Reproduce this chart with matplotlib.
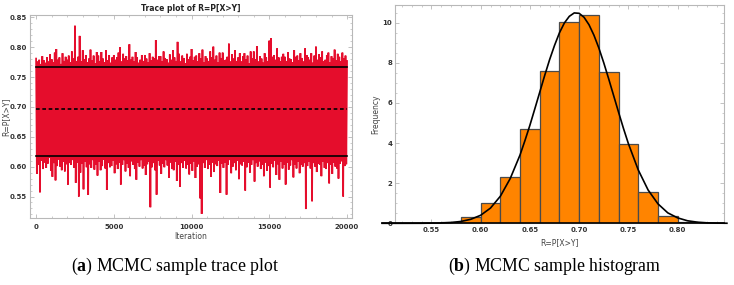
import numpy as np
import matplotlib.pyplot as plt
from matplotlib.ticker import MultipleLocator

# ---- trace plot data: chain extremes read every 100 iterations ----
trace_iter = list(range(0, 20001, 100))
trace_hi = [
    0.781, 0.776, 0.779, 0.772, 0.785, 0.778, 0.774, 0.783, 0.776, 0.788,
    0.780, 0.775, 0.791, 0.797, 0.779, 0.783, 0.772, 0.790, 0.777, 0.784,
    0.779, 0.786, 0.775, 0.793, 0.781, 0.836, 0.777, 0.784, 0.819, 0.776,
    0.795, 0.780, 0.787, 0.775, 0.781, 0.796, 0.778, 0.786, 0.773, 0.792,
    0.786, 0.777, 0.792, 0.781, 0.775, 0.795, 0.778, 0.787, 0.774, 0.783,
    0.787, 0.779, 0.783, 0.791, 0.800, 0.776, 0.789, 0.781, 0.785, 0.778,
    0.805, 0.779, 0.784, 0.776, 0.792, 0.783, 0.774, 0.779, 0.787, 0.777,
    0.787, 0.781, 0.775, 0.790, 0.778, 0.784, 0.781, 0.812, 0.779, 0.785,
    0.785, 0.776, 0.793, 0.782, 0.780, 0.774, 0.788, 0.779, 0.795, 0.783,
    0.777, 0.809, 0.789, 0.776, 0.786, 0.782, 0.773, 0.789, 0.780, 0.784,
    0.797, 0.778, 0.784, 0.786, 0.776, 0.790, 0.781, 0.796, 0.774, 0.785,
    0.781, 0.777, 0.793, 0.783, 0.801, 0.779, 0.786, 0.775, 0.791, 0.782,
    0.791, 0.778, 0.779, 0.784, 0.806, 0.776, 0.788, 0.781, 0.795, 0.777,
    0.783, 0.790, 0.776, 0.785, 0.790, 0.779, 0.786, 0.773, 0.793, 0.781,
    0.793, 0.780, 0.802, 0.776, 0.785, 0.781, 0.774, 0.790, 0.783, 0.777,
    0.811, 0.815, 0.784, 0.787, 0.779, 0.798, 0.783, 0.776, 0.784, 0.789,
    0.784, 0.777, 0.792, 0.781, 0.780, 0.775, 0.795, 0.784, 0.786, 0.778,
    0.790, 0.782, 0.776, 0.798, 0.787, 0.783, 0.779, 0.790, 0.774, 0.786,
    0.801, 0.779, 0.788, 0.783, 0.793, 0.776, 0.779, 0.787, 0.791, 0.775,
    0.785, 0.782, 0.796, 0.778, 0.789, 0.784, 0.776, 0.791, 0.781, 0.786,
    0.777]
trace_lo = [
    0.588, 0.603, 0.557, 0.610, 0.596, 0.607, 0.598, 0.605, 0.615, 0.593,
    0.583, 0.606, 0.577, 0.601, 0.612, 0.600, 0.594, 0.608, 0.592, 0.604,
    0.570, 0.606, 0.603, 0.611, 0.598, 0.573, 0.607, 0.550, 0.590, 0.605,
    0.562, 0.609, 0.599, 0.553, 0.604, 0.598, 0.611, 0.595, 0.603, 0.585,
    0.608, 0.594, 0.601, 0.612, 0.597, 0.561, 0.606, 0.599, 0.601, 0.610,
    0.589, 0.604, 0.596, 0.607, 0.570, 0.603, 0.611, 0.592, 0.605, 0.598,
    0.584, 0.609, 0.603, 0.596, 0.578, 0.607, 0.600, 0.611, 0.597, 0.602,
    0.586, 0.604, 0.608, 0.532, 0.599, 0.606, 0.594, 0.553, 0.610, 0.602,
    0.588, 0.605, 0.599, 0.611, 0.602, 0.581, 0.607, 0.596, 0.594, 0.608,
    0.576, 0.603, 0.566, 0.606, 0.598, 0.610, 0.597, 0.603, 0.587, 0.605,
    0.593, 0.609, 0.581, 0.600, 0.604, 0.547, 0.521, 0.606, 0.598, 0.611,
    0.596, 0.603, 0.583, 0.607, 0.591, 0.604, 0.601, 0.610, 0.556, 0.605,
    0.598, 0.607, 0.553, 0.603, 0.611, 0.589, 0.600, 0.606, 0.594, 0.610,
    0.579, 0.604, 0.602, 0.608, 0.560, 0.599, 0.607, 0.590, 0.603, 0.611,
    0.575, 0.606, 0.600, 0.609, 0.596, 0.603, 0.584, 0.607, 0.593, 0.601,
    0.565, 0.605, 0.599, 0.610, 0.586, 0.604, 0.578, 0.608, 0.597, 0.603,
    0.570, 0.607, 0.595, 0.602, 0.611, 0.582, 0.604, 0.597, 0.609, 0.589,
    0.603, 0.600, 0.606, 0.529, 0.601, 0.608, 0.597, 0.542, 0.606, 0.600,
    0.591, 0.605, 0.603, 0.584, 0.609, 0.598, 0.596, 0.606, 0.572, 0.603,
    0.588, 0.607, 0.600, 0.597, 0.580, 0.605, 0.609, 0.550, 0.601, 0.604,
    0.592]
ci_lower, post_mean, ci_upper = 0.618, 0.6966, 0.767

# ---- histogram data ----
bin_edges = [0.54, 0.56, 0.58, 0.60, 0.62, 0.64, 0.66, 0.68, 0.70, 0.72,
             0.74, 0.76, 0.78, 0.80, 0.82]
bin_heights = [0.03, 0.08, 0.30, 1.00, 2.31, 4.68, 7.59, 10.03, 10.37, 7.56,
               3.94, 1.54, 0.38, 0.04]
curve_x = [0.50, 0.52, 0.54, 0.56, 0.57, 0.58, 0.59, 0.60, 0.61, 0.62, 0.63, 0.64,
           0.645, 0.65, 0.655, 0.66, 0.665, 0.67, 0.675, 0.68, 0.685, 0.69, 0.695,
           0.70, 0.705, 0.71, 0.715, 0.72, 0.725, 0.73, 0.735, 0.74, 0.745, 0.75,
           0.76, 0.77, 0.78, 0.79, 0.80, 0.81, 0.82, 0.83, 0.84, 0.85]
curve_y = [0.000, 0.000, 0.002, 0.016, 0.040, 0.092, 0.20, 0.40, 0.76, 1.35, 2.23, 3.41,
           4.13, 4.89, 5.71, 6.54, 7.37, 8.16, 8.87, 9.50, 9.99, 10.32, 10.49,
           10.47, 10.27, 9.90, 9.38, 8.74, 8.00, 7.20, 6.37, 5.54, 4.73, 3.97,
           2.66, 1.66, 0.97, 0.52, 0.27, 0.126, 0.056, 0.023, 0.009, 0.003]

red = '#e50d2c'
frame_col = '#b8b8b8'
tick_col = '#333333'

plt.rcParams['mathtext.fontset'] = 'custom'
plt.rcParams['mathtext.rm'] = 'Liberation Serif'
plt.rcParams['mathtext.bf'] = 'Liberation Serif:bold'

fig = plt.figure(figsize=(7.34, 2.85), dpi=100)
ax1 = fig.add_axes([0.0409, 0.2351, 0.4387, 0.7123])
ax2 = fig.add_axes([0.5381, 0.2165, 0.4482, 0.7670])


def style_frame(ax):
    for s in ax.spines.values():
        s.set_color(frame_col)
        s.set_linewidth(0.8)
    ax.tick_params(which='both', direction='in', color=frame_col, top=True, right=True,
                   labelsize=5, labelcolor=tick_col)
    ax.tick_params(which='major', length=3, width=0.6)
    ax.tick_params(which='minor', length=1.5, width=0.5)
    for lab in ax.get_xticklabels() + ax.get_yticklabels():
        lab.set_fontweight('bold')


# ---- (a) trace plot ----
xs, ys = [], []
for i, it in enumerate(trace_iter):
    xs += [it, it + 50]
    ys += [trace_hi[i], trace_lo[i]]
ax1.plot(xs[:-1], ys[:-1], color=red, lw=1.25, solid_joinstyle='miter')
ax1.plot([0, 20000], [ci_upper, ci_upper], color='black', lw=1.2)
ax1.plot([0, 20000], [ci_lower, ci_lower], color='black', lw=1.2)
ax1.plot([0, 20000], [post_mean, post_mean], color='black', lw=1.2, ls=(0, (2.2, 1.6)))
ax1.set_xlim(-390, 20320)
ax1.set_ylim(0.514, 0.854)
ax1.set_xticks([0, 5000, 10000, 15000, 20000])
ax1.set_xticklabels(['0', '5000', '10000', '15000', '20000'])
ax1.xaxis.set_minor_locator(MultipleLocator(1000))
ax1.set_yticks([0.55, 0.60, 0.65, 0.70, 0.75, 0.80, 0.85])
ax1.set_yticklabels(['0.55', '0.60', '0.65', '0.70', '0.75', '0.80', '0.85'])
ax1.yaxis.set_minor_locator(MultipleLocator(0.01))
style_frame(ax1)
ax1.tick_params(axis='x', pad=4)
ax1.tick_params(axis='y', pad=2)
ax1.set_title('Trace plot of R=P[X>Y]', fontsize=5.5, color='#222222', pad=3,
              fontweight='bold')
ax1.set_xlabel('Iteration', fontsize=5.5, color='#444444', labelpad=2)
ax1.set_ylabel('R=P[X>Y]', fontsize=5.5, color='#444444')
ax1.yaxis.set_label_coords(-0.062, 0.5)

# ---- (b) histogram ----
widths = np.diff(bin_edges)
ax2.bar(bin_edges[:-1], bin_heights, width=widths, align='edge', color='#ff8400',
        edgecolor='#4a4a4a', linewidth=0.9, zorder=2)
ax2.plot(curve_x, curve_y, color='black', lw=1.2, zorder=3, clip_on=False)
ax2.plot([0.50, 0.847], [0, 0], color='black', lw=1.2, zorder=4, clip_on=False)
ax2.set_xlim(0.513, 0.847)
ax2.set_ylim(0, 10.9)
ax2.set_xticks([0.55, 0.60, 0.65, 0.70, 0.75, 0.80])
ax2.set_xticklabels(['0.55', '0.60', '0.65', '0.70', '0.75', '0.80'])
ax2.xaxis.set_minor_locator(MultipleLocator(0.01))
ax2.set_yticks([0, 2, 4, 6, 8, 10])
ax2.yaxis.set_minor_locator(MultipleLocator(0.5))
style_frame(ax2)
ax2.tick_params(axis='x', pad=3)
ax2.tick_params(axis='y', pad=2)
ax2.set_xlabel('R=P[X>Y]', fontsize=5.5, color='#444444', labelpad=3)
ax2.set_ylabel('Frequency', fontsize=5.5, color='#444444')
ax2.yaxis.set_label_coords(-0.046, 0.5)

# ---- captions ----
fig.text(0.238, 0.066, r'($\mathbf{a}$) MCMC sample trace plot', ha='center', va='center',
         fontsize=12.8, family='Liberation Serif')
fig.text(0.756, 0.066, r'($\mathbf{b}$) MCMC sample histogram', ha='center', va='center',
         fontsize=12.8, family='Liberation Serif')

fig.savefig('out.png', dpi=100)
